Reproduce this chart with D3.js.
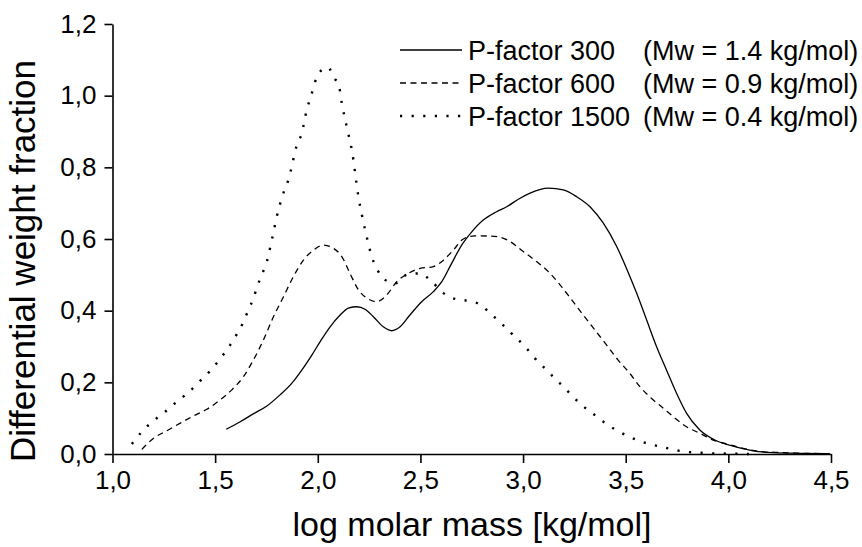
<!DOCTYPE html>
<html>
<head>
<meta charset="utf-8">
<script src="https://cdn.jsdelivr.net/npm/d3@7"></script>
<style>
  body { margin: 0; background: #fff; }
  text { font-family: Arial, "Liberation Sans", sans-serif; fill: #000; }
</style>
</head>
<body>
<svg id="chart" width="862" height="547"></svg>
<script>
// log molar mass vs differential weight fraction
const p300_x = [1.554, 1.622, 1.686, 1.752, 1.816, 1.873, 1.922, 1.971, 2.011, 2.060, 2.109, 2.149, 2.190, 2.230, 2.271, 2.319, 2.360, 2.401, 2.449, 2.506, 2.563, 2.604, 2.652, 2.701, 2.750, 2.806, 2.871, 2.920, 2.977, 3.034, 3.123, 3.196, 3.261, 3.326, 3.391, 3.456, 3.504, 3.553, 3.602, 3.650, 3.699, 3.748, 3.796, 3.861, 3.934, 4.023, 4.121, 4.218, 4.348, 4.494];
const p300_y = [0.069, 0.090, 0.112, 0.134, 0.165, 0.197, 0.234, 0.276, 0.313, 0.355, 0.388, 0.407, 0.411, 0.404, 0.383, 0.355, 0.344, 0.355, 0.388, 0.425, 0.453, 0.481, 0.532, 0.583, 0.620, 0.653, 0.676, 0.690, 0.711, 0.728, 0.742, 0.737, 0.718, 0.690, 0.644, 0.579, 0.518, 0.449, 0.374, 0.300, 0.234, 0.169, 0.114, 0.067, 0.039, 0.022, 0.009, 0.004, 0.002, 0.001];

const p600_x = [1.143, 1.200, 1.265, 1.330, 1.394, 1.460, 1.524, 1.581, 1.638, 1.686, 1.735, 1.784, 1.833, 1.881, 1.930, 1.979, 2.027, 2.076, 2.117, 2.157, 2.198, 2.239, 2.287, 2.336, 2.385, 2.441, 2.498, 2.563, 2.612, 2.660, 2.709, 2.766, 2.839, 2.888, 2.936, 3.001, 3.066, 3.123, 3.180, 3.237, 3.293, 3.350, 3.407, 3.463, 3.520, 3.569, 3.626, 3.683, 3.740, 3.796, 3.861, 3.926, 3.991, 4.072, 4.169, 4.267, 4.348, 4.494];
const p600_y = [0.013, 0.044, 0.065, 0.086, 0.106, 0.125, 0.151, 0.179, 0.216, 0.262, 0.318, 0.383, 0.439, 0.495, 0.541, 0.569, 0.583, 0.574, 0.551, 0.504, 0.458, 0.435, 0.425, 0.444, 0.481, 0.504, 0.518, 0.523, 0.541, 0.569, 0.600, 0.609, 0.608, 0.605, 0.593, 0.565, 0.537, 0.509, 0.472, 0.430, 0.388, 0.346, 0.304, 0.262, 0.225, 0.188, 0.155, 0.128, 0.100, 0.076, 0.058, 0.039, 0.028, 0.016, 0.006, 0.004, 0.002, 0.001];

const p1500_x = [1.094, 1.143, 1.200, 1.257, 1.313, 1.370, 1.427, 1.484, 1.533, 1.573, 1.606, 1.638, 1.662, 1.686, 1.706, 1.730, 1.752, 1.776, 1.800, 1.833, 1.857, 1.898, 1.922, 1.946, 1.966, 2.003, 2.049, 2.084, 2.100, 2.117, 2.141, 2.166, 2.198, 2.222, 2.246, 2.263, 2.287, 2.328, 2.376, 2.433, 2.498, 2.555, 2.612, 2.668, 2.725, 2.785, 2.839, 2.896, 2.952, 3.009, 3.058, 3.115, 3.171, 3.223, 3.277, 3.337, 3.391, 3.447, 3.507, 3.564, 3.621, 3.683, 3.740, 3.796, 3.853, 3.910, 4.000, 4.100];
const p1500_y = [0.028, 0.062, 0.093, 0.118, 0.146, 0.172, 0.204, 0.237, 0.272, 0.304, 0.335, 0.369, 0.402, 0.434, 0.469, 0.504, 0.537, 0.597, 0.662, 0.729, 0.765, 0.862, 0.895, 0.960, 0.997, 1.061, 1.079, 1.046, 1.036, 0.979, 0.913, 0.848, 0.718, 0.648, 0.588, 0.551, 0.518, 0.486, 0.476, 0.500, 0.504, 0.481, 0.449, 0.433, 0.428, 0.419, 0.393, 0.363, 0.332, 0.300, 0.267, 0.234, 0.202, 0.172, 0.141, 0.114, 0.090, 0.069, 0.051, 0.037, 0.027, 0.019, 0.011, 0.006, 0.004, 0.002, 0.001, 0.000];

const series_names = ["P-factor 300", "P-factor 600", "P-factor 1500"];
const series_mw = ["(Mw = 1.4 kg/mol)", "(Mw = 0.9 kg/mol)", "(Mw = 0.4 kg/mol)"];
const x_ticks = [1.0, 1.5, 2.0, 2.5, 3.0, 3.5, 4.0, 4.5];
const y_ticks = [0.0, 0.2, 0.4, 0.6, 0.8, 1.0, 1.2];

const svg = d3.select("#chart");

const x = d3.scaleLinear().domain([1.0, 4.5]).range([112.5, 831]);
const y = d3.scaleLinear().domain([0, 1.2]).range([454, 24]);

const fmt = d => d.toFixed(1).replace(".", ",");

// axes
const xAxis = svg.append("g")
    .attr("transform", "translate(0," + y(0) + ")")
    .call(d3.axisBottom(x).tickValues(x_ticks).tickFormat(fmt).tickSize(9).tickSizeOuter(0).tickPadding(8));
const yAxis = svg.append("g")
    .attr("transform", "translate(" + x(1.0) + ",0)")
    .call(d3.axisLeft(y).tickValues(y_ticks).tickFormat(fmt).tickSize(8).tickSizeOuter(0).tickPadding(8));

[xAxis, yAxis].forEach(g => {
    g.selectAll("path, line").attr("stroke", "#000").attr("stroke-width", 1.6);
    g.selectAll("text").style("font-size", "26px").attr("fill", "#000");
});

svg.append("text")
    .attr("x", 472)
    .attr("y", 536)
    .attr("text-anchor", "middle")
    .style("font-size", "34px")
    .text("log molar mass [kg/mol]");

svg.append("text")
    .attr("transform", "translate(35,261) rotate(-90)")
    .attr("text-anchor", "middle")
    .style("font-size", "35px")
    .text("Differential weight fraction");

// curves
const line = d3.line()
    .x(d => x(d[0]))
    .y(d => y(d[1]))
    .curve(d3.curveMonotoneX);

const styles = [
    {dash: null, width: 1.3},
    {dash: "6,4.5", width: 1.3},
    {dash: "2.2,9.4", width: 2.4}
];

const all_series = [
    d3.zip(p300_x, p300_y),
    d3.zip(p600_x, p600_y),
    d3.zip(p1500_x, p1500_y)
];

svg.append("g")
    .selectAll("path")
    .data(all_series)
    .join("path")
    .attr("d", line)
    .attr("fill", "none")
    .attr("stroke", "#000")
    .attr("stroke-width", (d, i) => styles[i].width)
    .attr("stroke-dasharray", (d, i) => styles[i].dash);

// legend
const legend = svg.append("g");
series_names.forEach((name, i) => {
    const ly = 50 + i * 33;
    legend.append("line")
        .attr("x1", 400).attr("x2", 462)
        .attr("y1", ly).attr("y2", ly)
        .attr("stroke", "#000")
        .attr("stroke-width", styles[i].width)
        .attr("stroke-dasharray", styles[i].dash);
    legend.append("text")
        .attr("x", 468).attr("y", ly + 10)
        .style("font-size", "27px")
        .text(name);
    legend.append("text")
        .attr("x", 643).attr("y", ly + 10)
        .style("font-size", "27px")
        .text(series_mw[i]);
});
</script>
</body>
</html>
